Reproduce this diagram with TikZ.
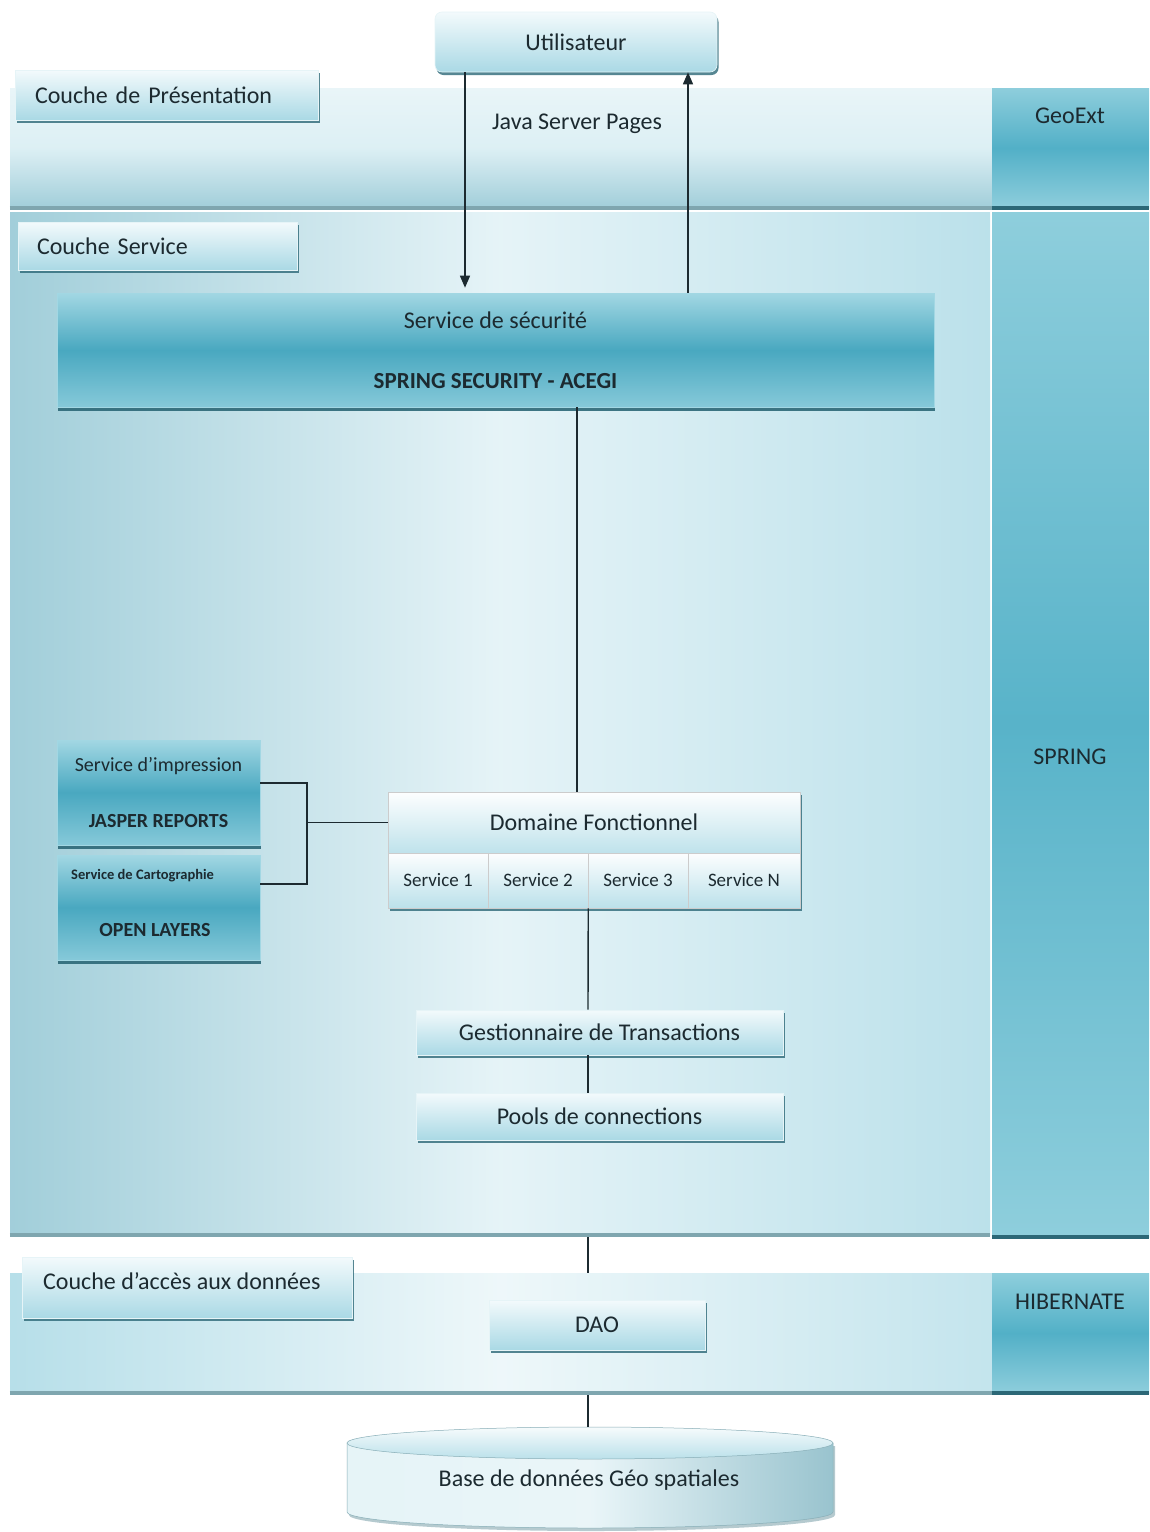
\documentclass[tikz,border=0pt]{standalone}
\usepackage{fontspec}
\setmainfont{Carlito}
\usetikzlibrary{shadows,arrows.meta,calc}
\definecolor{ink}{HTML}{1C2A30}
\definecolor{edge}{HTML}{2C6877}
\definecolor{edgelite}{HTML}{7FA6AF}
\definecolor{boxtop}{HTML}{F3FAFC}
\definecolor{boxbot}{HTML}{AAD9E5}
\definecolor{bandtop}{HTML}{E9F5F8}
\definecolor{tealtop}{HTML}{A2D7E3}
\definecolor{tealmid}{HTML}{49A8C0}
\definecolor{tealbot}{HTML}{86C9D9}
\definecolor{colend}{HTML}{8ECEDC}
\definecolor{colmid}{HTML}{52B0C7}
\begin{document}
\begin{tikzpicture}[x=1pt,y=-1pt,
  every node/.style={text=ink, font=\fontsize{24}{28}\selectfont, inner sep=0pt},
  lightbox/.style={rectangle, top color=boxtop, bottom color=boxbot, draw=white!70!boxbot, line width=0.6pt,
     drop shadow={shadow xshift=1.5pt, shadow yshift=-3pt, fill=edge, opacity=0.8}},
  tealbox/.style={rectangle, top color=tealtop, bottom color=tealbot, middle color=tealmid, draw=tealtop, line width=0.6pt,
     drop shadow={shadow xshift=1pt, shadow yshift=-4pt, fill=edge, opacity=0.9}},
  cell/.style={rectangle, top color=white!80!boxtop, bottom color=boxbot!80!white, draw=white!60!gray, line width=0.5pt,
     minimum height=55pt, font=\fontsize{19}{22}\selectfont},
  colbox/.style={rectangle, top color=colend, bottom color=colend, middle color=colmid},
  conn/.style={draw=ink, line width=1.4pt},
  arr/.style={conn, -{Triangle[length=12pt,width=10pt]}},
]
\useasboundingbox (0,0) rectangle (1149,1532);
\fill[white] (0,0) rectangle (1149,1532);

% ---------- layer bands ----------
\node[rectangle, top color=bandtop, bottom color=boxbot!95!black, middle color=bandtop!80!boxbot, minimum width=982pt, minimum height=120pt] (pres) at (501,148) {};
\node[colbox, minimum width=157pt, minimum height=120pt] (geo) at (1070.5,148) {};
\node[rectangle, left color=boxbot!95!black, right color=boxbot!80!white, middle color=white!70!boxbot, minimum width=980pt, minimum height=1023pt] (svc) at (500,723.5) {};
\node[colbox, top color=colend, bottom color=colend, middle color=colmid!90!colend, minimum width=157pt, minimum height=1025pt] (spring) at (1070.5,724.5) {};
\node[rectangle, left color=boxbot!85!white, right color=boxbot!70!white, middle color=white!80!boxbot, minimum width=982pt, minimum height=120pt] (dal) at (501,1333) {};
\node[colbox, minimum width=157pt, minimum height=120pt] (hib) at (1070.5,1333) {};

% band bottom edges
\draw[edgelite, line width=4pt] (pres.south west) -- (pres.south east);
\draw[edge, line width=4pt] (geo.south west) -- (geo.south east);
\draw[edgelite, line width=4pt] (svc.south west) -- (svc.south east);
\draw[edge, line width=4pt] (spring.south west) -- (spring.south east);
\draw[edgelite, line width=4pt] (dal.south west) -- (dal.south east);
\draw[edge, line width=4pt] (hib.south west) -- (hib.south east);

% column labels
\node (geot) at (1070,116) {GeoExt};
\node (springt) at (1070,757) {SPRING};
\node (hibt) at (1070,1302) {HIBERNATE};
\node (jsp) at (577,124) {Java Server Pages};

% ---------- layer labels ----------
\node[lightbox, text width=263pt, inner xsep=20pt, minimum height=50pt, align=left] (lp) at (166.5,95) {Couche de Pr\'esentation};
\node[lightbox, text width=241pt, inner xsep=19pt, minimum height=48pt, align=left] (ls) at (157.5,246) {Couche Service};
\node[lightbox, minimum width=330pt, minimum height=61pt] (ld) at (187,1287.5) {};
\node[anchor=west] (ldt) at (43,1281) {Couche d’acc\`es aux donn\'ees};

% ---------- user ----------
\node[lightbox, rounded corners=7pt, minimum width=282pt, minimum height=60pt] (user) at (576,42) {Utilisateur};

% ---------- security ----------
\node[tealbox, minimum width=877pt, minimum height=114pt, align=center, font=\fontsize{24}{60}\selectfont] (sec) at (495.5,350)
  {Service de s\'ecurit\'e\\\textbf{\fontsize{23}{60}\selectfont SPRING SECURITY - ACEGI}};

% ---------- left services ----------
\node[tealbox, minimum width=203pt, minimum height=105pt, align=center, font=\fontsize{20}{56}\selectfont] (imp) at (158.5,792.5)
  {Service d’impression\\\textbf{JASPER REPORTS}};
\node[tealbox, minimum width=203pt, minimum height=105pt] (carto) at (158.5,907.5) {};
\node[font=\fontsize{14.5}{16}\selectfont\bfseries, anchor=west] (cartot) at (71,876) {Service de Cartographie};
\node[font=\fontsize{20}{24}\selectfont\bfseries] (olt) at (155,930) {OPEN LAYERS};

% ---------- domaine fonctionnel ----------
\fill[edge, opacity=0.8] (389.5,795) rectangle (801.5,911);
\node[rectangle, top color=white!85!boxtop, bottom color=boxbot!75!white, draw=white!60!gray, line width=0.5pt,
      minimum width=412pt, minimum height=61pt] (domt) at (594,822.5) {Domaine Fonctionnel};
\node[cell, minimum width=100pt] (s1) at (438,880.5) {Service 1};
\node[cell, minimum width=100pt] (s2) at (538,880.5) {Service 2};
\node[cell, minimum width=100pt] (s3) at (638,880.5) {Service 3};
\node[cell, minimum width=112pt] (s4) at (744,880.5) {Service N};

% ---------- transactions / pools / dao ----------
\node[lightbox, minimum width=367pt, minimum height=45pt] (gest) at (599.5,1032.5) {Gestionnaire de Transactions};
\node[lightbox, minimum width=367pt, minimum height=47pt] (pools) at (599.5,1116.5) {Pools de connections};
\node[lightbox, minimum width=216pt, minimum height=50pt] (dao) at (597,1325) {DAO};

% ---------- database cylinder ----------
\fill[edge, opacity=0.35] (349,1446) -- (349,1515) arc[start angle=180, end angle=360, x radius=243pt, y radius=16pt] -- (835,1446) -- cycle;
\path[left color=white!70!boxbot, right color=boxbot!90!black, middle color=white!75!boxbot, draw=boxbot!80!black, line width=0.5pt]
  (347,1443) -- (347,1512) arc[start angle=180, end angle=360, x radius=243pt, y radius=16pt] -- (833,1443) -- cycle;
\path[top color=white!90!boxbot, bottom color=boxbot!80!white, draw=boxbot!80!black, line width=0.5pt]
  (590,1443) ellipse [x radius=243pt, y radius=16pt];
\coordinate (dbtop) at (590,1427);
\node (db) at (589,1480) {Base de donn\'ees G\'eo spatiales};

% ---------- connectors ----------
\coordinate (xa) at (465,0);
\coordinate (xb) at (688,0);
\coordinate (xc) at (577,0);
\coordinate (xd) at (588,0);
\coordinate (jn) at (307,822.5);

\draw[arr, shorten >=5pt] (user.south -| xa) -- (sec.north -| xa);
\draw[arr] (sec.north -| xb) -- (user.south -| xb);
\draw[conn] (sec.south -| xc) -- (domt.north -| xc);
\draw[conn] ($(imp.east)+(0,-9.5)$) -| (jn) |- ($(carto.east)+(0,-23.5)$);
\draw[conn] (jn) -- (domt.west);
\draw[conn] (s2.south east) -- (gest.north -| xd);
\draw[conn] (gest.south -| xd) -- (pools.north -| xd);
\draw[conn] ([yshift=-2pt]svc.south -| xd) -- (dal.north -| xd);
\draw[conn] ([yshift=-2pt]dal.south -| xd) -- (dbtop -| xd);
\end{tikzpicture}
\end{document}
